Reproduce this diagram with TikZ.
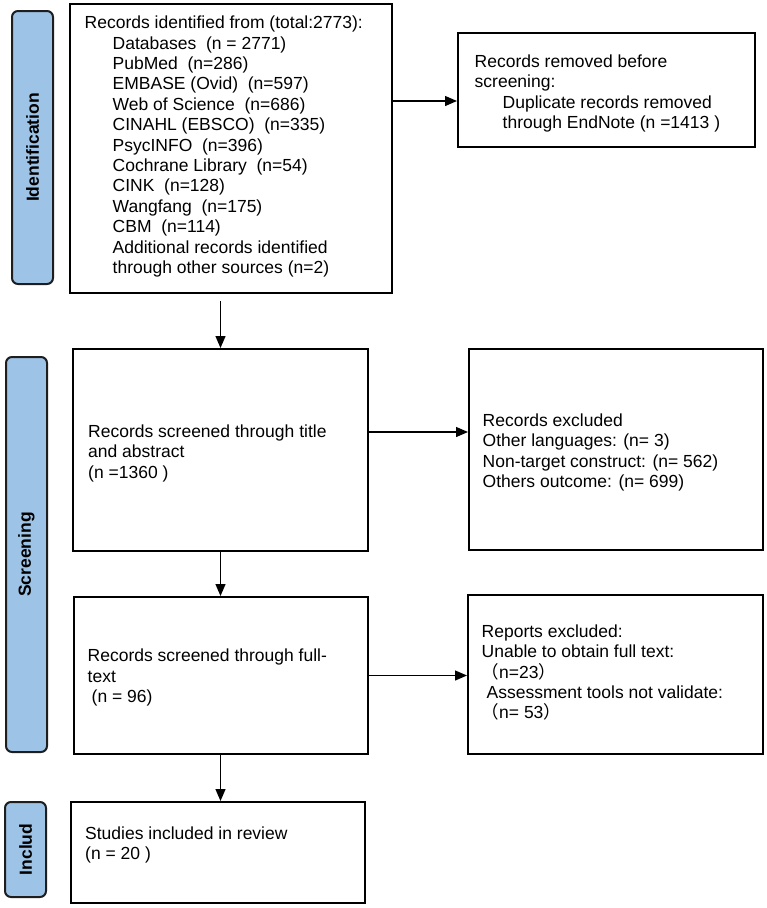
\documentclass[tikz,border=0pt]{standalone}
\usepackage{fontspec}
\setmainfont{Liberation Sans}
\newfontfamily\cjk{Noto Sans CJK SC}
\usetikzlibrary{arrows.meta,calc}
\definecolor{labfill}{HTML}{9DC3E6}
\definecolor{labdraw}{HTML}{1E1E1E}
\newcommand{\fs}{\rule{0pt}{14pt}}
\newcommand{\ind}{\hspace*{28pt}}
\begin{document}
\begin{tikzpicture}[x=1pt,y=-1pt,
  box/.style={draw=black,line width=2pt,minimum width=#1},
  lab/.style={draw=labdraw,fill=labfill,line width=2pt,rounded corners=6pt,rotate=90,
    font=\fontsize{17.5}{20.4}\selectfont\bfseries,text=black,inner sep=0pt},
  txt/.style={anchor=north west,inner sep=0pt,align=left,
    font=\fontsize{17.5}{20.4}\selectfont},
  arr/.style={-{Triangle[length=12pt,width=10pt]},line width=1.3pt}]
\useasboundingbox (0,0) rectangle (767,908);
% phase labels
\node[lab,minimum width=273pt,minimum height=41pt] (l1) at (32.5,147.5) {Identification};
\node[lab,minimum width=395pt,minimum height=41pt] (l2) at (26.5,554.5) {Screening};
\node[lab,minimum width=95pt,minimum height=41pt] (l3) at (25.5,849.5) {Includ};
% boxes
\node[box=322pt,minimum height=289pt] (b1) at (231,148.5) {};
\node[box=297pt,minimum height=114pt] (b2) at (606.5,90) {};
\node[box=295pt,minimum height=202pt] (b3) at (220.5,450) {};
\node[box=294pt,minimum height=201pt] (b4) at (616,449.5) {};
\node[box=294pt,minimum height=157pt] (b5) at (220.5,675.5) {};
\node[box=295pt,minimum height=159pt] (b6) at (615.5,674.5) {};
\node[box=294pt,minimum height=101pt] (b7) at (218,852.5) {};
% texts
\node[txt] (t1) at (84.5,14.5) {\fs Records identified from (total:2773):\\
\ind Databases\ \ (n = 2771)\\
\ind PubMed\ \ (n=286)\\
\ind EMBASE (Ovid)\ \ (n=597)\\
\ind Web of Science\ \ (n=686)\\
\ind CINAHL (EBSCO)\ \ (n=335)\\
\ind PsycINFO\ \ (n=396)\\
\ind Cochrane Library\ \ (n=54)\\
\ind CINK\ \ (n=128)\\
\ind Wangfang\ \ (n=175)\\
\ind CBM\ \ (n=114)\\
\ind Additional records identified\\
\ind through other sources (n=2)};
\node[txt] (t2) at (474.5,53) {\fs Records removed before\\
screening:\\
\ind Duplicate records removed\\
\ind through EndNote (n =1413 )};
\node[txt] (t3) at (88,423) {\fs Records screened through title\\
and abstract\\
(n =1360 )};
\node[txt] (t4) at (482.5,412) {\fs Records excluded\\
Other languages: (n= 3)\\
Non-target construct: (n= 562)\\
Others outcome: (n= 699)};
\node[txt] (t5) at (87.5,647.5) {\fs Records screened through full-\\
text\\
\hspace*{4pt}(n = 96)};
\node[txt] (t6) at (481.5,623) {\fs Reports excluded:\\
Unable to obtain full text:\\
{\cjk （}n=23{\cjk ）}\\
\hspace*{5pt}Assessment tools not validate:\\
{\cjk （}n= 53{\cjk ）}};
\node[txt] (t7) at (85,825) {\fs Studies included in review\\
(n = 20 )};
% connectors
\coordinate (e1) at ([yshift=47.5pt]b1.east);
\draw[arr] (e1) -- (e1 -| b2.west);
\draw[arr,shorten <=7pt] (b1.south -| b3.north) -- (b3.north);
\coordinate (e3) at ([yshift=18pt]b3.east);
\draw[arr] (e3) -- (e3 -| b4.west);
\draw[arr] (b3.south) -- (b5.north);
\draw[arr] (b5.east) -- (b5.east -| b6.west);
\draw[arr] (b5.south) -- (b5.south |- b7.north);
\end{tikzpicture}
\end{document}
